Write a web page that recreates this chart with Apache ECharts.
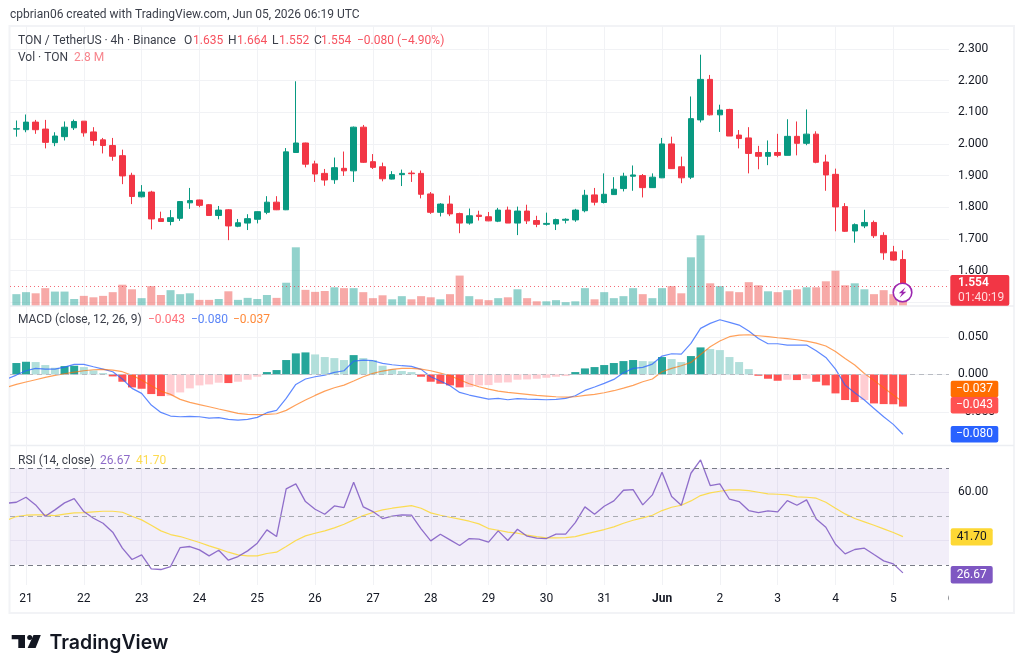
<!DOCTYPE html>
<html>
<head>
<meta charset="utf-8">
<style>html,body{margin:0;padding:0;background:#fff}#c{width:1024px;height:672px}</style>
<script src="https://cdn.jsdelivr.net/npm/echarts@6/dist/echarts.min.js"></script>
</head>
<body>
<div id="c"></div>
<script>
// TON / USDT, 4h candles with volume, MACD(12,26,9) and RSI(14)
const opens = [2.047,2.045,2.069,2.047,2.004,2.023,2.051,2.072,2.038,2.013,1.995,1.963,1.901,1.833,1.848,1.764,1.755,1.765,1.814,1.823,1.808,1.774,1.792,1.740,1.750,1.762,1.784,1.816,1.792,1.973,2.003,1.937,1.907,1.887,1.923,1.915,2.053,1.944,1.928,1.889,1.903,1.908,1.907,1.842,1.784,1.810,1.780,1.750,1.775,1.770,1.756,1.791,1.750,1.788,1.758,1.746,1.747,1.759,1.760,1.789,1.839,1.815,1.840,1.859,1.898,1.900,1.862,1.893,2.000,1.928,1.895,2.076,2.204,2.092,2.109,2.028,2.019,1.973,1.961,1.973,1.964,2.024,2.002,2.031,1.943,1.904,1.802,1.725,1.741,1.752,1.711,1.659,1.635];
const highs = [2.074,2.093,2.076,2.076,2.037,2.071,2.077,2.072,2.053,2.019,2.019,1.982,1.909,1.870,1.852,1.786,1.791,1.819,1.861,1.824,1.810,1.804,1.794,1.763,1.778,1.787,1.835,1.835,1.987,2.198,2.004,1.947,1.921,1.957,1.976,2.055,2.060,1.968,1.941,1.914,1.919,1.916,1.916,1.848,1.813,1.837,1.783,1.796,1.789,1.785,1.798,1.802,1.802,1.808,1.773,1.783,1.764,1.765,1.795,1.855,1.861,1.907,1.895,1.909,1.932,1.905,1.907,2.019,2.023,1.960,2.150,2.282,2.218,2.124,2.111,2.044,2.053,1.994,2.011,2.032,2.078,2.071,2.109,2.040,1.966,1.922,1.813,1.749,1.792,1.758,1.721,1.678,1.664];
const lows = [2.023,2.037,2.032,1.986,1.993,2.011,2.044,2.023,1.995,1.970,1.947,1.873,1.810,1.831,1.730,1.755,1.743,1.757,1.795,1.800,1.774,1.762,1.696,1.737,1.728,1.749,1.778,1.791,1.791,1.973,1.926,1.880,1.868,1.874,1.899,1.880,1.940,1.921,1.882,1.888,1.867,1.880,1.828,1.779,1.771,1.772,1.718,1.745,1.758,1.756,1.753,1.750,1.712,1.747,1.737,1.742,1.728,1.749,1.754,1.784,1.806,1.812,1.839,1.850,1.852,1.831,1.861,1.892,1.921,1.876,1.889,2.068,2.090,2.038,2.025,1.986,1.907,1.920,1.933,1.958,1.964,1.964,1.996,1.939,1.852,1.724,1.722,1.688,1.734,1.703,1.634,1.631,1.552];
const closes = [2.048,2.069,2.045,2.005,2.025,2.053,2.071,2.035,2.011,1.995,1.961,1.899,1.834,1.848,1.763,1.755,1.767,1.818,1.821,1.806,1.774,1.791,1.741,1.751,1.764,1.786,1.816,1.792,1.975,2.003,1.936,1.905,1.886,1.925,1.915,2.053,1.942,1.926,1.890,1.903,1.907,1.906,1.841,1.784,1.810,1.779,1.750,1.773,1.771,1.757,1.791,1.750,1.788,1.757,1.746,1.749,1.761,1.762,1.791,1.838,1.816,1.841,1.857,1.898,1.902,1.862,1.895,2.000,1.922,1.893,2.080,2.204,2.092,2.107,2.025,2.017,1.970,1.961,1.973,1.964,2.024,2.002,2.031,1.942,1.902,1.801,1.724,1.745,1.752,1.710,1.656,1.633,1.554];
const volumes = [3.9,4.6,4.2,6.0,4.8,4.8,2.2,3.3,2.8,3.3,4.6,7.2,5.6,2.5,6.7,3.6,5.3,3.9,4.2,1.9,1.9,2.2,4.9,1.9,2.6,2.2,3.6,2.6,7.9,20.3,5.4,4.7,5.0,6.3,6.0,6.0,4.6,2.5,3.5,2.1,3.2,2.1,3.2,2.8,2.1,3.9,10.4,3.2,2.1,1.8,2.5,2.8,5.6,2.5,1.4,1.4,1.8,1.1,1.4,6.0,2.1,4.6,2.5,3.2,6.0,3.9,2.5,6.0,6.7,4.2,16.8,24.5,7.7,6.7,4.9,4.6,8.1,7.0,4.9,4.6,5.3,5.6,6.3,6.3,8.4,12.1,7.0,7.7,5.6,3.9,5.3,3.9,2.8];
const macdHist = [.0152,.0169,.0165,.0125,.0089,.0111,.0116,.0098,.0053,.0018,-.0027,-.0098,-.0174,-.0192,-.0263,-.0290,-.0285,-.0241,-.0187,-.0147,-.0134,-.0111,-.0116,-.0098,-.0071,-.0031,.0031,.0058,.0192,.0281,.0294,.0267,.0232,.0218,.0192,.0258,.0218,.0192,.0116,.0067,.0045,.0031,-.0031,-.0098,-.0125,-.0147,-.0174,-.0169,-.0147,-.0143,-.0111,-.0107,-.0071,-.0067,-.0058,-.0045,-.0031,-.0022,.0031,.0080,.0098,.0125,.0152,.0178,.0192,.0178,.0174,.0232,.0205,.0165,.0245,.0361,.0339,.0325,.0232,.0165,.0071,-.0018,-.0058,-.0085,-.0071,-.0076,-.0058,-.0098,-.0147,-.0254,-.0343,-.0370,-.0343,-.0388,-.0397,-.0399,-.043];
const macdLine = [-.0009,.0049,.0080,.0071,.0071,.0098,.0134,.0134,.0102,.0071,.0036,-.0062,-.0187,-.0254,-.0410,-.0508,-.0557,-.0566,-.0561,-.0566,-.0584,-.0579,-.0602,-.0610,-.0602,-.0575,-.0512,-.0481,-.0321,-.0134,-.0062,-.0031,-.0009,.0027,.0049,.0178,.0192,.0183,.0147,.0129,.0116,.0107,.0067,-.0031,-.0089,-.0152,-.0241,-.0276,-.0303,-.0330,-.0321,-.0339,-.0325,-.0330,-.0334,-.0339,-.0334,-.0321,-.0285,-.0214,-.0169,-.0120,-.0067,.0022,.0080,.0094,.0138,.0245,.0276,.0272,.0414,.0615,.0682,.0731,.0695,.0659,.0579,.0481,.0410,.0410,.0392,.0392,.0392,.0316,.0227,.0071,-.0143,-.0245,-.0343,-.0455,-.0566,-.0668,-.080];
const macdSignal = [-.0134,-.0102,-.0071,-.0040,-.0013,.0009,.0031,.0049,.0062,.0067,.0058,.0036,-.0013,-.0076,-.0152,-.0223,-.0267,-.0334,-.0374,-.0405,-.0432,-.0463,-.0490,-.0521,-.0535,-.0539,-.0535,-.0526,-.0481,-.0410,-.0343,-.0281,-.0223,-.0178,-.0143,-.0089,-.0031,.0013,.0045,.0067,.0080,.0080,.0071,.0049,.0018,-.0018,-.0071,-.0125,-.0165,-.0196,-.0223,-.0241,-.0254,-.0267,-.0281,-.0290,-.0299,-.0303,-.0299,-.0281,-.0267,-.0245,-.0218,-.0183,-.0147,-.0098,-.0062,.0036,.0080,.0116,.0160,.0267,.0370,.0446,.0504,.0526,.0530,.0517,.0504,.0490,.0477,.0463,.0446,.0419,.0379,.0307,.0214,.0125,.0013,-.0080,-.0178,-.0276,-.037];
const rsiLine = [55.93,58.0,54.83,50.14,52.76,55.66,57.45,52.07,49.31,47.24,43.52,36.9,32.21,34.14,28.35,28.07,29.31,37.17,37.59,36.21,33.72,36.07,31.93,33.45,35.79,38.97,44.48,41.72,61.45,63.52,56.2,53.03,50.97,54.41,53.72,64.2,54.0,52.07,49.17,50.14,50.69,50.55,44.9,39.93,42.69,40.34,38.0,40.9,40.62,39.38,44.07,40.07,44.76,41.86,41.03,40.9,42.69,42.69,47.52,54.0,50.97,54.28,56.48,60.9,61.17,54.83,58.97,68.34,58.28,54.69,67.93,73.45,62.83,63.52,57.17,56.2,52.48,51.66,52.34,51.93,56.62,54.69,56.9,49.03,45.59,38.55,34.55,36.35,36.9,34.27,31.66,30.41,26.67];
const rsiSma = [50.0,50.55,50.69,50.69,50.41,50.97,51.52,51.66,51.93,52.2,52.2,51.79,50.14,48.62,46.41,44.07,42.55,41.72,40.48,39.24,37.86,36.62,35.24,34.14,33.72,33.72,34.69,35.24,37.59,40.07,42.0,43.1,44.07,45.31,46.83,48.62,50.41,51.66,52.76,53.45,54.0,54.55,53.45,51.52,50.55,49.72,48.9,48.07,46.97,45.03,44.34,43.52,43.1,42.28,41.72,41.17,41.17,41.31,41.72,42.69,43.66,44.62,45.72,47.24,48.48,49.45,50.55,52.48,53.86,54.69,56.48,58.69,59.79,60.48,61.03,61.03,60.76,60.07,59.38,59.24,58.97,58.14,58.0,57.59,55.93,53.45,51.1,49.17,47.79,46.41,44.9,43.38,41.70];
// indicator readings of the bar just before the first candle, which the pane cuts off
const macdLineBefore = -.0062, macdSignalBefore = -.0174, rsiLineBefore = 55.52, rsiSmaBefore = 48.48;
const dayLabels = ['21','22','23','24','25','26','27','28','29','30','31','Jun','2','3','4','5','6'];

const UP = '#089981', DOWN = '#F23645', GRID = '#f1f2f5', TEXT = '#131722';
const FONT = 'Roboto, sans-serif';
const lastPrice = closes[closes.length - 1];

const paneLeft = 10, paneWidth = 939;
const xMin = -0.66, xMax = 96.78;
const timeSlots = 98;          // one slot per 4h candle, out to the first hidden day
const slotLabels = new Array(timeSlots).fill('');
dayLabels.forEach((d, i) => { slotLabels[1 + i * 6] = d; });

const idx = closes.map((_, i) => i);
const pairs = (arr, before) => [[-1, before]].concat(arr.map((v, i) => [i, v]));
const candles = idx.map(i => [i, opens[i], closes[i], lows[i], highs[i]]);
const volumeBars = idx.map(i => ({
  value: [i, volumes[i]],
  itemStyle: { color: closes[i] >= opens[i] ? 'rgba(38,166,154,.5)' : 'rgba(239,83,80,.5)' }
}));
// histogram shade follows the direction of the bar against the previous one
const histBars = idx.map(i => {
  const v = macdHist[i], prev = i ? macdHist[i - 1] : -1;
  const c = v >= 0 ? (v >= prev ? '#26a69a' : '#b2dfdb') : (v < prev ? '#ff5252' : '#ffcdd2');
  return { value: [i, v], itemStyle: { color: c } };
});

const paneX = g => ({ type: 'value', gridIndex: g, min: xMin, max: xMax, show: false });
const labelStyle = { color: TEXT, fontSize: 12, fontFamily: FONT, margin: 9 };

const option = {
  animation: false,
  backgroundColor: '#fff',
  grid: [
    { left: paneLeft, width: paneWidth, top: 17.35, height: 284.85 },   // price
    { left: paneLeft, width: paneWidth, top: 205.3, height: 100 },      // volume
    { left: paneLeft, width: paneWidth, top: 299.6, height: 149.6 },    // MACD
    { left: paneLeft, width: paneWidth, top: 444.1, height: 144.9 },    // RSI
    { left: 16.36, width: 934.8, top: 26, height: 559 }                 // shared time scale
  ],
  xAxis: [
    paneX(0), paneX(1), paneX(2), paneX(3),
    {
      type: 'category', gridIndex: 4, boundaryGap: false, data: slotLabels,
      axisLine: { show: false }, axisTick: { show: false },
      axisLabel: {
        interval: (i, v) => v !== '', color: TEXT, fontSize: 12, fontFamily: FONT, margin: 8,
        hideOverlap: false, showMaxLabel: true,
        formatter: v => (v === 'Jun' ? '{b|Jun}' : v),
        rich: { b: { fontWeight: 700, fontSize: 12, color: TEXT, fontFamily: FONT } }
      },
      splitLine: { show: true, interval: (i, v) => v !== '' && i < timeSlots - 1, lineStyle: { color: GRID, width: 1 } }
    }
  ],
  yAxis: [
    {
      type: 'value', gridIndex: 0, position: 'right', min: 1.5, max: 2.4, interval: 0.1,
      axisLine: { show: false }, axisTick: { show: false },
      axisLabel: { ...labelStyle, showMinLabel: false, showMaxLabel: false, formatter: v => v.toFixed(3) },
      splitLine: { show: true, showMinLine: true, showMaxLine: false, lineStyle: { color: GRID } }
    },
    { type: 'value', gridIndex: 1, min: 0, max: 35, show: false },
    {
      type: 'value', gridIndex: 2, position: 'right', min: -0.1, max: 0.1, interval: 0.05,
      axisLine: { show: false }, axisTick: { show: false },
      axisLabel: { ...labelStyle, showMinLabel: false, showMaxLabel: false, formatter: v => v.toFixed(3).replace('-', '\u2212') },
      splitLine: { show: true, showMinLine: false, showMaxLine: false, lineStyle: { color: GRID } }
    },
    {
      type: 'value', gridIndex: 3, position: 'right', min: 20, max: 80, interval: 20,
      axisLine: { show: false }, axisTick: { show: false },
      axisLabel: { ...labelStyle, formatter: v => (v === 60 ? '60.00' : '') },
      splitLine: { show: true, showMinLine: false, showMaxLine: false, lineStyle: { color: '#f2f1f7' } }
    },
    { type: 'value', gridIndex: 4, min: 0, max: 1, show: false }
  ],
  series: [
    {
      type: 'bar', xAxisIndex: 1, yAxisIndex: 1, data: volumeBars, barWidth: 8, z: 1
    },
    {
      type: 'candlestick', xAxisIndex: 0, yAxisIndex: 0, data: candles, barWidth: 6, z: 3,
      encode: { x: 0, y: [1, 2, 3, 4] },
      itemStyle: { color: UP, color0: DOWN, borderColor: UP, borderColor0: DOWN, borderWidth: 1 },
      markLine: {
        silent: true, symbol: 'none', label: { show: false }, animation: false,
        lineStyle: { color: DOWN, type: [1, 3], width: 1, opacity: .75 },
        data: [{ yAxis: lastPrice }]
      }
    },
    {
      type: 'bar', xAxisIndex: 2, yAxisIndex: 2, data: histBars, barWidth: 8, z: 1,
      markLine: {
        silent: true, symbol: 'none', label: { show: false }, animation: false,
        lineStyle: { color: '#b8bbc2', type: [5, 4], width: 1 },
        data: [{ yAxis: 0 }]
      }
    },
    {
      type: 'line', xAxisIndex: 2, yAxisIndex: 2, data: pairs(macdLine, macdLineBefore), showSymbol: false, z: 3,
      lineStyle: { color: '#2962FF', width: 1.2, opacity: .75 }
    },
    {
      type: 'line', xAxisIndex: 2, yAxisIndex: 2, data: pairs(macdSignal, macdSignalBefore), showSymbol: false, z: 3,
      lineStyle: { color: '#FF6D00', width: 1.2, opacity: .65 }
    },
    {
      type: 'line', xAxisIndex: 3, yAxisIndex: 3, data: pairs(rsiLine, rsiLineBefore), showSymbol: false, z: 3,
      lineStyle: { color: '#7E57C2', width: 1.3, opacity: .85 },
      markArea: {
        silent: true, itemStyle: { color: 'rgba(126,87,194,.1)' },
        data: [[{ yAxis: 70 }, { yAxis: 30 }]]
      },
      markLine: {
        silent: true, symbol: 'none', label: { show: false }, animation: false,
        lineStyle: { color: '#787B86', type: [5, 4], width: 1 },
        data: [
          { yAxis: 70 }, { yAxis: 30 },
          { yAxis: 50, lineStyle: { color: '#a9abb3', type: [5, 4], width: 1 } }
        ]
      }
    },
    {
      type: 'line', xAxisIndex: 3, yAxisIndex: 3, data: pairs(rsiSma, rsiSmaBefore), showSymbol: false, z: 2,
      lineStyle: { color: '#FDD835', width: 1.2, opacity: .85 }
    }
  ]
};

const txt = (x, y, text, fill, extra) => ({
  type: 'text', x, y, silent: true, z: 20,
  style: Object.assign({ text, fill, fontSize: 12, fontFamily: FONT, verticalAlign: 'middle', align: 'left' }, extra || {})
});
const box = (x, y, w, h, fill, z) => ({
  type: 'rect', silent: true, z: z || 19, shape: { x, y, width: w, height: h, r: 2 }, style: { fill }
});
const hline = (y) => ({
  type: 'line', silent: true, z: 0, shape: { x1: 10, y1: y, x2: 1014, y2: y }, style: { stroke: '#eceef2', lineWidth: 1.5 }
});

const legendRed = '#f7525f';
option.graphic = [
  // chart frame and pane separators
  { type: 'rect', silent: true, z: 0, shape: { x: 9.5, y: 26, width: 1004.5, height: 587 }, style: { fill: 'none', stroke: '#f2f3f6', lineWidth: 2 } },
  hline(306), hline(445.5),
  // covers the part of the next day's label that runs past the pane
  { type: 'rect', silent: true, z: 18, shape: { x: 949, y: 590, width: 12, height: 20 }, style: { fill: '#fff' } },

  txt(10, 14.5, 'cpbrian06 created with TradingView.com, Jun 05, 2026 06:19 UTC', '#3a3e49'),

  txt(18, 41, 'TON / TetherUS \u00b7 4h \u00b7 Binance', '#3a3e49'),
  txt(184, 41, 'O', '#3a3e49'), txt(193, 41, '1.635', legendRed),
  txt(228, 41, 'H', '#3a3e49'), txt(237, 41, '1.664', legendRed),
  txt(272, 41, 'L', '#3a3e49'), txt(279, 41, '1.552', legendRed),
  txt(314, 41, 'C', '#3a3e49'), txt(321, 41, '1.554', legendRed),
  txt(357, 41, '\u22120.080 (\u22124.90%)', legendRed),
  txt(18, 58, 'Vol \u00b7 TON', '#3a3e49'), txt(74, 58, '2.8 M', '#f7848c'),

  txt(18, 320, 'MACD (close, 12, 26, 9)', '#3a3e49'),
  txt(148, 320, '\u22120.043', '#ff6f78'), txt(191, 320, '\u22120.080', '#5b85f7'), txt(233, 320, '\u22120.037', '#ff8a3a'),

  txt(18, 461, 'RSI (14, close)', '#3a3e49'),
  txt(100, 461, '26.67', '#8e6bc9'), txt(136, 461, '41.70', '#fddb50'),

  // last-price tag
  box(950.3, 275, 59, 30.7, DOWN),
  txt(958, 283, '1.554', '#fff', { fontWeight: 600 }),
  txt(958, 298, '01:40:19', '#ffd8db'),

  // MACD and RSI value tags
  box(950.7, 380.7, 47.6, 16.5, '#FF6D00'), txt(974.5, 389, '\u22120.037', '#fff', { align: 'center' }),
  box(950.7, 397, 47.6, 16.5, '#FF5252'), txt(974.5, 405.3, '\u22120.043', '#fff', { align: 'center' }),
  box(950.7, 426, 47.6, 16.5, '#2962FF'), txt(974.5, 434.3, '\u22120.080', '#fff', { align: 'center' }),
  box(950.7, 528.3, 42, 17.3, '#FDD835'), txt(971.7, 537, '41.70', TEXT, { align: 'center' }),
  box(950.7, 566, 42, 17.5, '#7E57C2'), txt(971.7, 575, '26.67', '#fff', { align: 'center' }),

  // flash badge on the last candle
  { type: 'circle', silent: true, z: 21, shape: { cx: 902.5, cy: 292.5, r: 9.3 }, style: { fill: '#fff', stroke: '#9C27B0', lineWidth: 1.6 } },
  { type: 'polygon', silent: true, z: 22, shape: { points: [[905.5, 287.3], [898.8, 293.2], [902, 293.2], [899.6, 297.7], [906.3, 291.7], [903, 291.7]] }, style: { fill: '#9C27B0' } },

  // wordmark
  { type: 'polygon', silent: true, z: 21, shape: { points: [[11.7, 635], [25, 635], [25, 648], [18.3, 648], [18.3, 639.3], [11.7, 639.3]] }, style: { fill: '#131722' } },
  { type: 'circle', silent: true, z: 21, shape: { cx: 29.7, cy: 637.5, r: 2.5 }, style: { fill: '#131722' } },
  { type: 'polygon', silent: true, z: 21, shape: { points: [[33.5, 635], [40.8, 635], [35.6, 648], [27.6, 648]] }, style: { fill: '#131722' } },
  txt(49.5, 643, 'TradingView', '#131722', { fontFamily: 'Inter, sans-serif', fontSize: 19.5, fontWeight: 600 })
];

const chart = echarts.init(document.getElementById('c'), null, { renderer: 'canvas' });
chart.setOption(option);
</script>
</body>
</html>
